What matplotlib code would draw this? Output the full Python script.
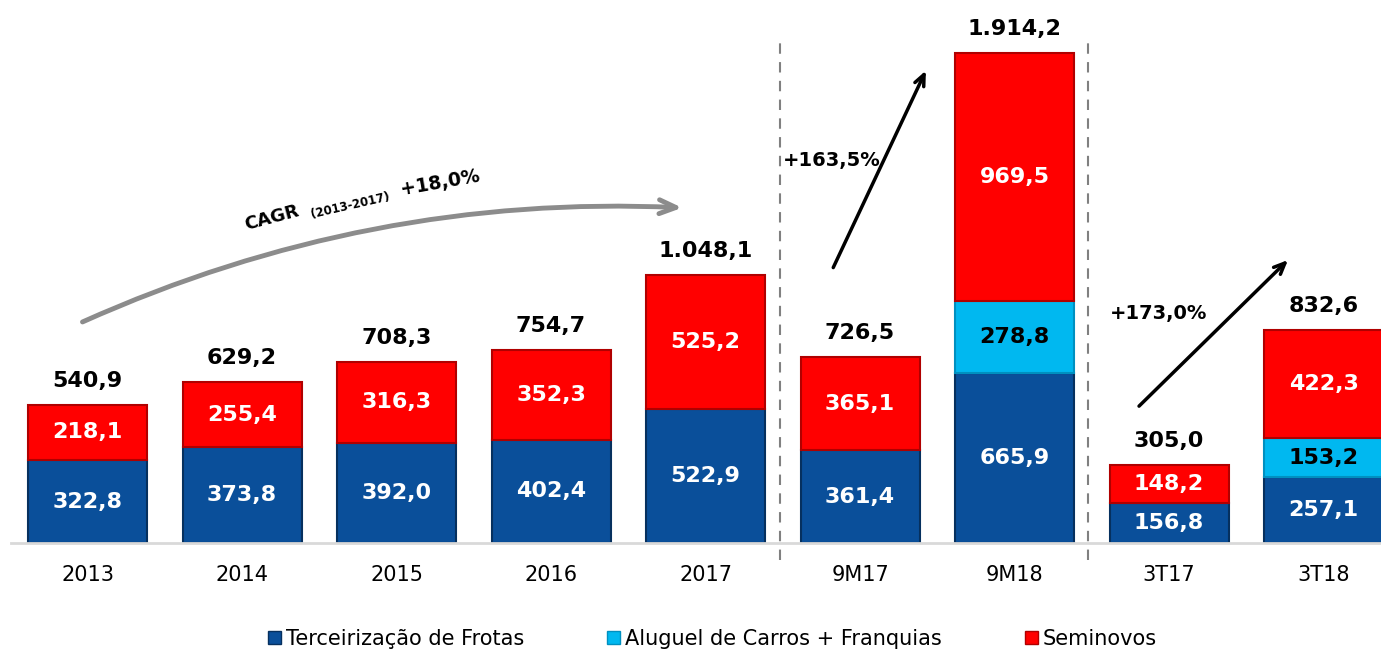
import numpy as np
import matplotlib.pyplot as plt
from matplotlib.patches import Patch

# Data (R$ milhões)
categories = ['2013', '2014', '2015', '2016', '2017', '9M17', '9M18', '3T17', '3T18']
frotas = [322.8, 373.8, 392.0, 402.4, 522.9, 361.4, 665.9, 156.8, 257.1]
aluguel = [0, 0, 0, 0, 0, 0, 278.8, 0, 153.2]
seminovos = [218.1, 255.4, 316.3, 352.3, 525.2, 365.1, 969.5, 148.2, 422.3]
totals = [540.9, 629.2, 708.3, 754.7, 1048.1, 726.5, 1914.2, 305.0, 832.6]
legend_labels = ['Terceirização de Frotas', 'Aluguel de Carros + Franquias', 'Seminovos']

blue = '#0A4F9A'
cyan = '#00B8F0'
red = '#FF0000'


def fmt(v):
    # brazilian number format: 1.048,1
    s = f"{v:,.1f}"
    return s.replace(',', 'X').replace('.', ',').replace('X', '.')


fig = plt.figure(figsize=(13.81, 6.5), dpi=100)
ax = fig.add_axes([0.008, 0.1646, 0.992, 0.8354])

x = np.arange(len(categories))
w = 0.77
frotas = np.array(frotas)
aluguel = np.array(aluguel)
seminovos = np.array(seminovos)

ax.bar(x, frotas, w, color=blue, edgecolor='#06305E', linewidth=1.5)
ax.bar(x, aluguel, w, bottom=frotas, color=cyan, edgecolor='#0090C0', linewidth=1.5)
ax.bar(x, seminovos, w, bottom=frotas + aluguel, color=red, edgecolor='#B00000', linewidth=1.5)

# segment labels
for i in range(len(categories)):
    ax.text(x[i], frotas[i] / 2, fmt(frotas[i]), ha='center', va='center',
            color='white', fontsize=16, fontweight='bold')
    if aluguel[i] > 0:
        ax.text(x[i], frotas[i] + aluguel[i] / 2, fmt(aluguel[i]), ha='center', va='center',
                color='black', fontsize=16, fontweight='bold')
    ax.text(x[i], frotas[i] + aluguel[i] + seminovos[i] / 2, fmt(seminovos[i]),
            ha='center', va='center', color='white', fontsize=16, fontweight='bold')
    ax.annotate(fmt(totals[i]), (x[i], totals[i]), xytext=(0, 10), textcoords='offset points',
                ha='center', va='bottom', fontsize=16, fontweight='bold')

ax.set_xlim(-0.495, 8.372)
ax.set_ylim(0, 2121)
ax.set_xticks(x)
ax.set_xticklabels(categories, fontsize=15)
ax.tick_params(axis='x', length=0, pad=16)
ax.set_yticks([])
for s in ['top', 'right', 'left']:
    ax.spines[s].set_visible(False)
ax.spines['bottom'].set_color('#D9D9D9')
ax.spines['bottom'].set_linewidth(2)

# dashed separators
for xs in [4.482, 6.475]:
    ax.plot([xs, xs], [-66, 1957], color='#808080', linestyle=(0, (5, 4)),
            linewidth=1.5, clip_on=False)

# CAGR arrow
ax.annotate('', xy=(3.867, 1309), xytext=(-0.049, 859),
            arrowprops=dict(arrowstyle='->,head_length=1.2,head_width=0.5', color='#8C8C8C',
                            lw=3.5, connectionstyle='arc3,rad=-0.12'))
ax.text(1.194, 1268, 'CAGR', rotation=15, ha='center', va='center', fontsize=13, fontweight='bold')
ax.text(1.70, 1318, '(2013-2017)', rotation=13, ha='center', va='center', fontsize=8.5, fontweight='bold')
ax.text(2.282, 1408, '+18,0%', rotation=10, ha='center', va='center', fontsize=13.5, fontweight='bold')

# growth arrows
ax.annotate('', xy=(5.434, 1855), xytext=(4.819, 1066),
            arrowprops=dict(arrowstyle='->,head_length=0.8,head_width=0.35', color='black', lw=2.5))
ax.text(4.82, 1496, '+163,5%', ha='center', va='center', fontsize=14, fontweight='bold')
ax.annotate('', xy=(7.783, 1113), xytext=(6.793, 527),
            arrowprops=dict(arrowstyle='->,head_length=0.8,head_width=0.35', color='black', lw=2.5))
ax.text(6.93, 898, '+173,0%', ha='center', va='center', fontsize=14, fontweight='bold')

handles = [Patch(facecolor=blue, edgecolor='#06305E'),
           Patch(facecolor=cyan, edgecolor='#0090C0'),
           Patch(facecolor=red, edgecolor='#B00000')]
fig.legend(handles, legend_labels, loc='lower center', bbox_to_anchor=(0.516, -0.027), ncol=3,
           frameon=False, fontsize=15, handlelength=0.6, handleheight=0.6,
           handletextpad=0.25, columnspacing=4.0)

fig.savefig('out.png', dpi=100)
